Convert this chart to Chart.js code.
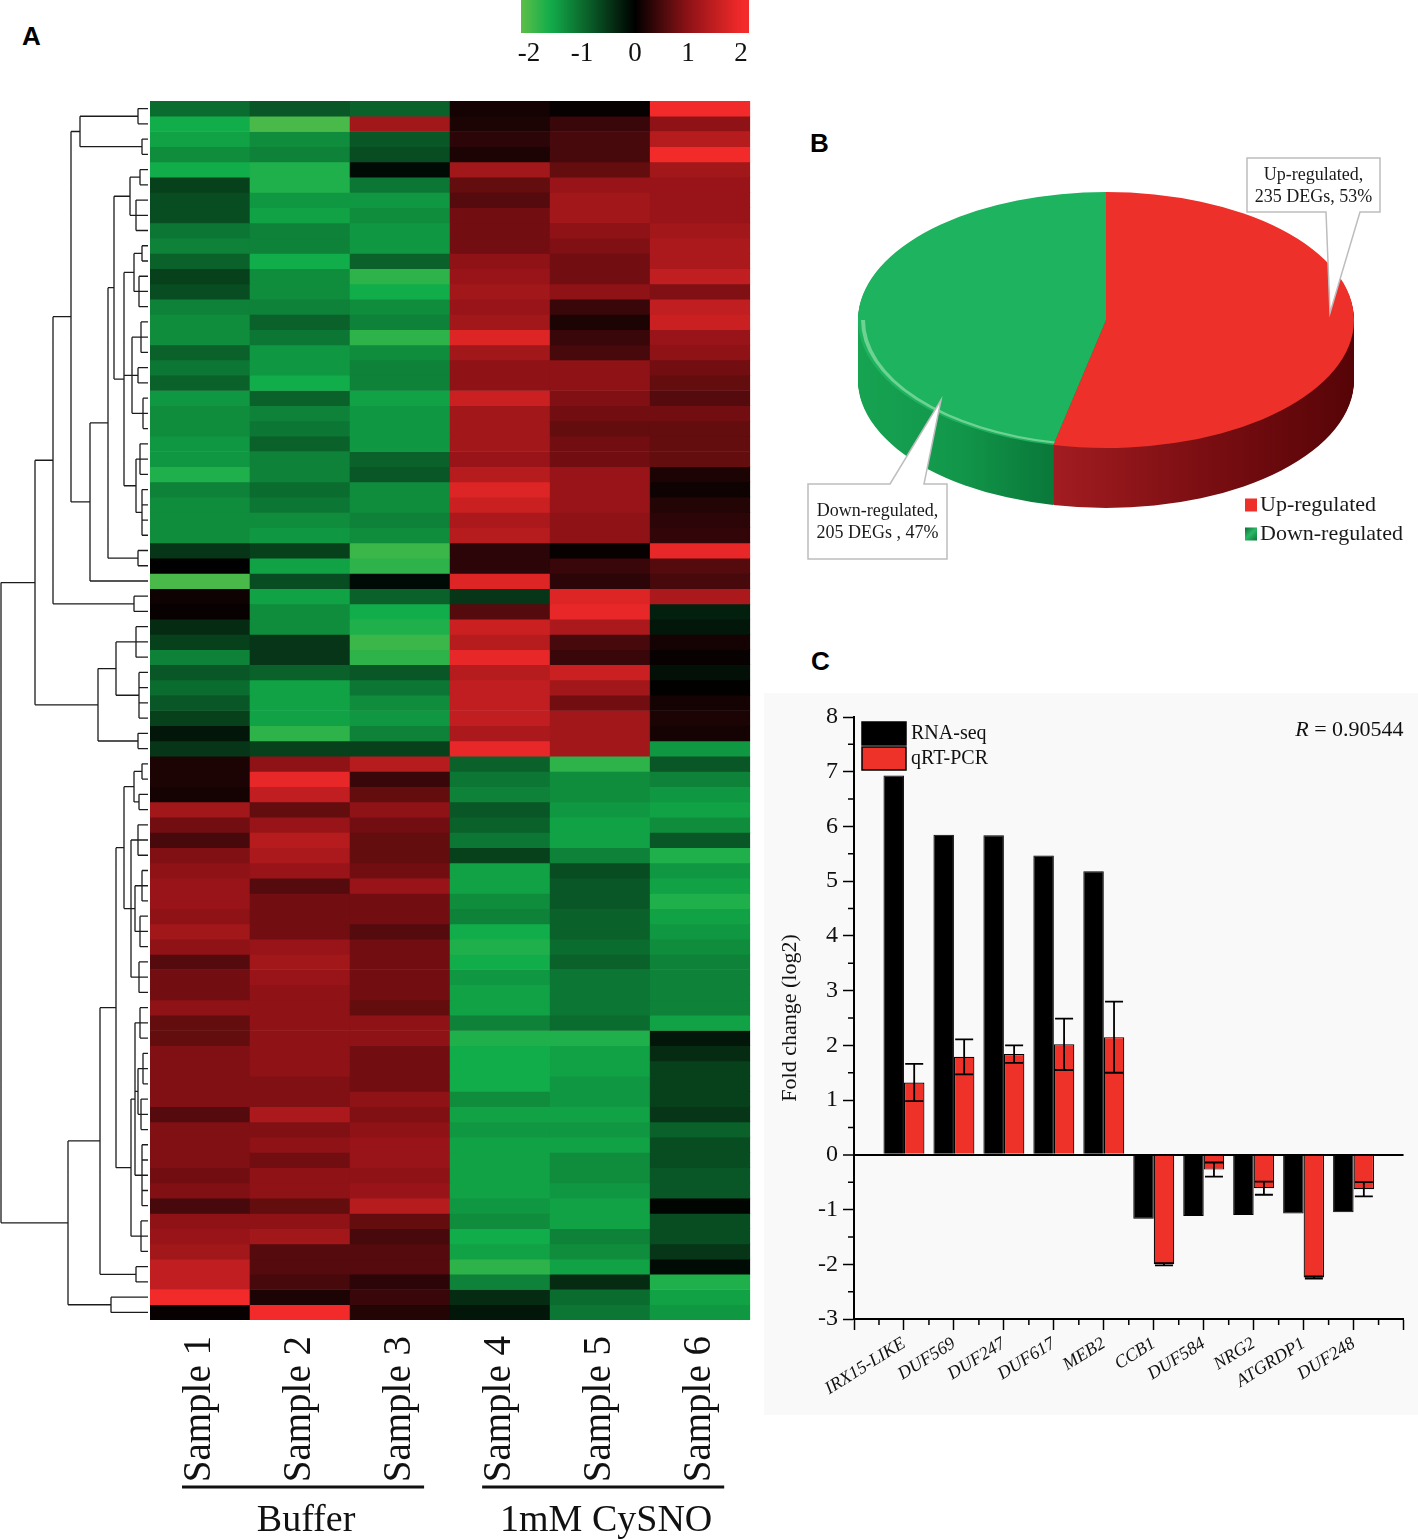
<!DOCTYPE html>
<html><head><meta charset="utf-8">
<script src="https://cdn.jsdelivr.net/npm/chart.js@4.4.1/dist/chart.umd.min.js"></script>
<style>
html,body{margin:0;padding:0;background:#fff;}
#wrap{position:relative;width:1418px;height:1540px;overflow:hidden;background:#fff;}
canvas{position:absolute;}
.lbl{position:absolute;font:bold 26px "Liberation Sans",Arial,sans-serif;line-height:26px;color:#000;}
</style></head><body><div id="wrap">
<div class="lbl" style="left:22px;top:23px">A</div>
<div class="lbl" style="left:810px;top:130px">B</div>
<div class="lbl" style="left:811px;top:648px">C</div>
<canvas id="cbar" width="250" height="75" style="left:515px;top:0px"></canvas>
<canvas id="dendro" width="150" height="1219" style="left:0px;top:101px"></canvas>
<canvas id="heat" width="605" height="1439" style="left:150px;top:101px"></canvas>
<canvas id="pie" width="620" height="560" style="left:796px;top:40px"></canvas>
<canvas id="barC" width="654" height="722" style="left:764px;top:693px"></canvas>
</div>
<script>
// ---------------- DATA ----------------
const samples = ['Sample 1','Sample 2','Sample 3','Sample 4','Sample 5','Sample 6'];
const groups = ['Buffer','1mM CySNO'];
const groupMembers = [[0,2],[3,5]];
const colorTicks = [-2,-1,0,1,2];
const colorRange = [-2.15, 2.15];

const sample1 = [-1.0,-1.6,-1.5,-1.3,-1.6,-0.6,-0.7,-0.7,-1.1,-1.2,-0.9,-0.6,-0.7,-1.2,-1.3,-1.3,-0.9,-1.1,-0.9,-1.4,
  -1.3,-1.3,-1.4,-1.4,-1.7,-1.2,-1.3,-1.3,-1.3,-0.5,0.0,-2.0,0.1,0.05,-0.4,-0.6,-1.2,-0.8,-1.0,-0.8,
  -0.6,-0.2,-0.5,0.2,0.2,0.15,1.2,0.8,0.5,0.9,1.0,1.1,1.1,1.0,1.2,1.0,0.6,0.8,0.8,1.0,
  0.7,0.7,0.9,0.9,0.9,0.9,0.6,0.9,0.9,0.9,0.8,0.9,0.5,1.0,1.1,1.2,1.5,1.5,2.0,0.05];
const sample2 = [-0.8,-2.0,-1.3,-1.2,-1.7,-1.7,-1.4,-1.5,-1.2,-1.2,-1.6,-1.3,-1.3,-1.2,-0.9,-1.1,-1.4,-1.4,-1.6,-0.9,
  -1.2,-1.1,-0.9,-1.2,-1.2,-1.0,-1.1,-1.3,-1.4,-0.6,-1.5,-0.7,-1.5,-1.3,-1.3,-0.5,-0.5,-0.9,-1.5,-1.5,
  -1.5,-1.8,-0.6,1.0,1.9,1.5,0.7,1.1,1.4,1.3,1.1,0.6,0.8,0.8,0.8,1.1,1.2,1.1,1.0,1.0,
  1.0,1.0,1.0,1.0,0.9,0.9,1.3,0.9,1.0,0.8,1.0,1.0,0.7,1.0,1.2,0.6,0.6,0.5,0.2,2.1];
const sample3 = [-0.9,1.2,-0.8,-0.7,-0.1,-1.1,-1.4,-1.3,-1.4,-1.4,-0.9,-1.8,-1.6,-1.3,-1.2,-1.8,-1.3,-1.2,-1.2,-1.5,
  -1.4,-1.4,-1.4,-0.9,-0.8,-1.3,-1.3,-1.2,-1.3,-1.9,-1.8,-0.1,-0.9,-1.6,-1.7,-1.9,-1.8,-0.8,-1.1,-1.3,
  -1.4,-1.2,-0.6,1.4,0.4,0.7,1.0,0.8,0.7,0.7,0.8,1.1,0.8,0.8,0.6,0.8,0.8,0.8,0.8,0.7,
  1.0,1.0,0.8,0.8,0.8,1.0,0.9,1.0,1.1,1.1,1.0,1.1,1.4,0.7,0.5,0.6,0.6,0.3,0.4,0.25];
const sample4 = [0.15,0.2,0.3,0.2,1.2,0.7,0.6,0.8,0.8,0.8,1.0,1.1,1.2,1.1,1.2,1.8,1.2,1.0,1.0,1.6,
  1.2,1.2,1.2,1.1,1.4,1.8,1.6,1.3,1.4,0.3,0.3,1.8,-0.5,0.6,1.6,1.4,1.9,1.4,1.5,1.5,
  1.5,1.3,1.9,-0.9,-1.1,-1.2,-0.8,-0.9,-1.1,-0.6,-1.5,-1.5,-1.3,-1.2,-1.6,-1.7,-1.6,-1.4,-1.5,-1.5,
  -1.2,-1.7,-1.6,-1.6,-1.6,-1.3,-1.5,-1.4,-1.5,-1.5,-1.5,-1.5,-1.4,-1.3,-1.6,-1.5,-1.8,-1.2,-0.4,-0.2];
const sample5 = [0.05,0.4,0.5,0.5,0.7,1.1,1.2,1.2,1.0,0.9,0.8,0.8,1.0,0.4,0.2,0.4,0.5,1.0,1.0,0.9,
  0.8,0.7,0.8,0.8,1.1,1.1,1.1,1.0,1.0,0.05,0.4,0.3,1.8,1.9,1.3,0.5,0.4,1.6,1.2,0.8,
  1.2,1.2,1.2,-1.8,-1.3,-1.3,-1.4,-1.5,-1.5,-1.2,-0.7,-0.8,-0.8,-0.9,-0.9,-1.0,-0.9,-1.1,-1.1,-1.1,
  -1.0,-1.7,-1.5,-1.5,-1.4,-1.4,-1.5,-1.4,-1.5,-1.3,-1.3,-1.4,-1.5,-1.5,-1.2,-1.3,-1.5,-0.4,-1.0,-1.1];
const sample6 = [2.1,1.0,1.4,2.0,1.2,1.1,1.1,1.1,1.2,1.3,1.3,1.5,0.9,1.5,1.6,1.1,1.0,0.8,0.7,0.6,
  0.8,0.7,0.7,0.7,0.2,0.1,0.25,0.3,0.35,1.9,0.6,0.5,1.3,-0.3,-0.2,0.15,0.05,-0.15,0.02,0.15,
  0.2,0.15,-1.4,-0.8,-1.2,-1.4,-1.5,-1.3,-0.8,-1.7,-1.4,-1.5,-1.7,-1.5,-1.4,-1.3,-1.2,-1.2,-1.2,-1.2,
  -1.5,-0.2,-0.4,-0.6,-0.6,-0.6,-0.5,-0.9,-0.7,-0.7,-0.8,-0.8,-0.05,-0.7,-0.7,-0.5,-0.1,-1.7,-1.5,-1.4];

// dendrogram: [mergeDistance, child, child, ...]; leaves are row indices
const dendrogram = [147,
  [113,
    [95,
      [77,
        [68, [10, 0, 1], [6, 2, 3]],
        [58,
          [40,
            [34,
              [18, [8, 4, 5], [12, 6, 7, 8]],
              [24, [14, [6, 9, 10], [9, 11, 12, 13]], [16, [7, 14, 15, 16], [10, 17, 18], [5, 19, 20, 21]], [12, [8, 22, 23, 24], [6, 25, 26, 27, 28]]]
            ],
            [10, 29, 30]
          ],
          31
        ]
      ],
      [14, 32, 33]
    ],
    [50, [32, [12, 34, 35, 36], [9, 37, 38, 39, 40]], [10, 41, 42]]
  ],
  [80,
    [48,
      [32,
        [24, [14, [6, 43, 44], [9, 45, 46]], [17, [10, 47, 48, 49], [13, [6, 50, 51, 52], [8, 53, 54, 55]], [9, 56, 57, 58]]],
        [17, [13, [8, 59, 60, 61], [10, [5, 62, 63, 64], [7, 65, 66, 67]], [6, 68, 69, 70, 71, 72]], [7, 73, 74, 75]]
      ],
      [12, 76, 77]
    ],
    [37, 78, 79]
  ]
];

const pieLabels = ['Up-regulated','Down-regulated'];
const pieCounts = [235, 205];
const pieColors = ['#ed3029','#1eb35f'];

const genes = ['IRX15-LIKE','DUF569','DUF247','DUF617','MEB2','CCB1','DUF584','NRG2','ATGRDP1','DUF248'];
const rnaSeq = [6.93,5.85,5.84,5.47,5.18,-1.17,-1.12,-1.10,-1.07,-1.05];
const qrtPcr = [1.32,1.79,1.84,2.02,2.15,-2.00,-0.27,-0.61,-2.24,-0.63];
const qrtErr = [0.34,0.32,0.16,0.47,0.65,0.02,0.13,0.12,0.02,0.13];
const yRangeC = [-3, 8];
const correlationR = 0.90544;

// ---------------- HELPERS ----------------
const SERIF = '"Liberation Serif","Times New Roman",serif';
function heatColor(v){
  let r,g,b;
  if (v >= 0){
    if (v <= 1){ r=142*v; g=18*v; b=22*v; }
    else { const t=Math.min(1,v-1); r=142+100*t; g=18+24*t; b=22+20*t; }
  } else {
    const a=-v;
    if (a <= 1.6){ const t=a/1.6; r=18*t; g=173*t; b=75*t; }
    else { const t=Math.min(1,(a-1.6)/0.6); r=18+82*t; g=173+19*t; b=75-3*t; }
  }
  return 'rgb('+Math.round(r)+','+Math.round(g)+','+Math.round(b)+')';
}
const common = {responsive:false, animation:false, events:[], plugins:{legend:{display:false}, tooltip:{enabled:false}}};

// ---------------- COLOR BAR ----------------
new Chart(document.getElementById('cbar'), {
  type:'bar',
  data:{labels:[''], datasets:[{data:[colorRange], borderWidth:0, barPercentage:1, categoryPercentage:1,
    backgroundColor:(c)=>{ const ch=c.chart, a=ch.chartArea; if(!a) return '#000';
      const g=ch.ctx.createLinearGradient(a.left,0,a.right,0);
      for(let i=0;i<=40;i++){ const v=colorRange[0]+(colorRange[1]-colorRange[0])*i/40; g.addColorStop(i/40, heatColor(v)); }
      return g; }}]},
  options:Object.assign({}, common, {indexAxis:'y', layout:{padding:{left:6,right:16,top:0,bottom:0}},
    scales:{ y:{display:false},
      x:{type:'linear', min:colorRange[0], max:colorRange[1], grid:{display:false}, border:{display:false},
        afterBuildTicks:(s)=>{ s.ticks=colorTicks.map(v=>({value:v})); },
        afterFit:(s)=>{ s.height=42; },
        ticks:{padding:-3, color:'#111', font:{family:SERIF, size:27}, callback:(v)=>String(v)}}}})
});

// ---------------- DENDROGRAM ----------------
const dendroPts = [];
function walk(node){
  if (typeof node === 'number') return {y:node+0.5, d:0};
  const h=node[0]; const kids=node.slice(1).map(walk);
  kids.forEach(k=>{ dendroPts.push({x:k.d,y:k.y},{x:h,y:k.y},{x:h,y:null}); });
  dendroPts.push({x:h,y:kids[0].y},{x:h,y:kids[kids.length-1].y},{x:h,y:null});
  return {y:(kids[0].y+kids[kids.length-1].y)/2, d:h};
}
walk(dendrogram);
new Chart(document.getElementById('dendro'), {
  type:'scatter',
  data:{datasets:[{data:dendroPts, showLine:true, spanGaps:false, pointRadius:0, borderColor:'#1c1c1c', borderWidth:1.3}]},
  options:Object.assign({}, common, {layout:{padding:{left:0,right:2,top:0,bottom:0}},
    scales:{x:{type:'linear', min:0, max:148, reverse:true, display:false},
            y:{type:'linear', min:0, max:sample1.length, reverse:true, display:false}}})
});

// ---------------- HEATMAP ----------------
const sampleValues = [sample1,sample2,sample3,sample4,sample5,sample6];
const heatDatasets = sample1.map((_,i)=>({
  data: samples.map(()=>1),
  backgroundColor: sampleValues.map(arr=>heatColor(arr[i])),
  borderWidth:0, barPercentage:1, categoryPercentage:1, stack:'h'
}));
const groupPlugin = {
  id:'groups',
  afterDraw(chart){
    const {ctx, chartArea} = chart; const xs = chart.scales.x;
    ctx.save();
    groups.forEach((g,gi)=>{
      const [a,b] = groupMembers[gi];
      const x1 = xs.getPixelForValue(a)-18, x2 = xs.getPixelForValue(b)+24;
      const ly = chartArea.bottom+167;
      ctx.fillStyle='#111'; ctx.fillRect(x1, ly-1.5, x2-x1, 3);
      ctx.font='38px '+SERIF; ctx.textAlign='center'; ctx.textBaseline='alphabetic';
      ctx.fillText(g, (xs.getPixelForValue(a)+xs.getPixelForValue(b))/2+6, chartArea.bottom+211);
    });
    ctx.restore();
  }
};
new Chart(document.getElementById('heat'), {
  type:'bar',
  data:{labels:samples, datasets:heatDatasets},
  options:Object.assign({}, common, {layout:{padding:0},
    scales:{
      x:{stacked:true, grid:{display:false}, border:{display:false},
         ticks:{minRotation:90, maxRotation:90, autoSkip:false, padding:8, color:'#111', font:{family:SERIF, size:39}},
         afterFit:(s)=>{ s.height=220; }},
      y:{stacked:true, display:false, min:0, max:sample1.length, reverse:true}
    }}),
  plugins:[groupPlugin]
});

// ---------------- 3D PIE ----------------
const PIE_TILT = 128/248, PIE_DEPTH = 60;
const sideStops = [
  [[0,'#b52226'],[0.38,'#a41d21'],[0.7,'#7a0e12'],[1,'#560407']],
  [[0,'#16a352'],[0.2,'#12974a'],[0.38,'#0a7a3b'],[1,'#086a33']]
];
const callouts = [
  {box:[451,118,584,172], base:[530,564], tip:[534,273], side:'bottom', sep:', ', lines:[135,157]},
  {box:[12,444,151,519], base:[94,128], tip:[145,360], side:'top', sep:' , ', lines:[471,493]}
];
const pie3d = {
  id:'pie3d',
  beforeDatasetsDraw(chart){
    const {ctx} = chart; const meta = chart.getDatasetMeta(0); const a0 = meta.data[0];
    const cx=a0.x, cy=a0.y, r=a0.outerRadius;
    for(let d=PIE_DEPTH; d>=1; d--){
      meta.data.forEach((arc,i)=>{
        ctx.save(); ctx.translate(cx, cy+d); ctx.scale(1, PIE_TILT);
        const g=ctx.createLinearGradient(-r,0,r,0); sideStops[i].forEach(([o,c])=>g.addColorStop(o,c));
        ctx.fillStyle=g; ctx.beginPath(); ctx.moveTo(0,0);
        ctx.arc(0,0,r,arc.startAngle,arc.endAngle); ctx.closePath(); ctx.fill(); ctx.restore();
      });
    }
    ctx.save(); ctx.translate(cx,cy); ctx.scale(1,PIE_TILT); ctx.translate(-cx,-cy);
  },
  afterDatasetsDraw(chart){
    const {ctx} = chart; const g = chart.getDatasetMeta(0).data[1];
    ctx.beginPath(); ctx.arc(g.x, g.y, g.outerRadius-5, g.startAngle, Math.PI);
    ctx.strokeStyle='rgba(125,215,155,0.85)'; ctx.lineWidth=4; ctx.stroke();
    ctx.restore();
  },
  afterDraw(chart){
    const {ctx} = chart; const total = pieCounts.reduce((a,b)=>a+b,0);
    ctx.save();
    callouts.forEach((c,i)=>{
      const [l,t,r,b]=c.box;
      ctx.beginPath();
      if (c.side==='bottom'){
        ctx.moveTo(l,t); ctx.lineTo(r,t); ctx.lineTo(r,b); ctx.lineTo(c.base[1],b); ctx.lineTo(c.tip[0],c.tip[1]); ctx.lineTo(c.base[0],b); ctx.lineTo(l,b);
      } else {
        ctx.moveTo(l,t); ctx.lineTo(c.base[0],t); ctx.lineTo(c.tip[0],c.tip[1]); ctx.lineTo(c.base[1],t); ctx.lineTo(r,t); ctx.lineTo(r,b); ctx.lineTo(l,b);
      }
      ctx.closePath(); ctx.fillStyle='#fff'; ctx.fill(); ctx.strokeStyle='#bdbdbd'; ctx.lineWidth=1.5; ctx.stroke();
      ctx.fillStyle='#1a1a1a'; ctx.font='18px '+SERIF; ctx.textAlign='center'; ctx.textBaseline='middle';
      const pct = Math.round(pieCounts[i]/total*100);
      ctx.fillText(pieLabels[i]+',', (l+r)/2, c.lines[0]);
      ctx.fillText(pieCounts[i]+' DEGs'+c.sep+pct+'%', (l+r)/2, c.lines[1]);
    });
    // legend
    ctx.font='22px '+SERIF; ctx.textAlign='left'; ctx.textBaseline='middle';
    pieLabels.forEach((lab,i)=>{
      const y = 465 + i*29;
      if (i===0){ ctx.fillStyle=pieColors[0]; }
      else { const g=ctx.createLinearGradient(449,y-7,461,y+6); g.addColorStop(0,'#0a6a32'); g.addColorStop(0.5,'#2bb866'); g.addColorStop(1,'#0b7a3b'); ctx.fillStyle=g; }
      ctx.fillRect(449, y-6.5, 12, 13);
      ctx.fillStyle='#1a1a1a'; ctx.fillText(lab, 464, y);
    });
    ctx.restore();
  }
};
new Chart(document.getElementById('pie'), {
  type:'pie',
  data:{labels:pieLabels, datasets:[{data:pieCounts, backgroundColor:pieColors, borderWidth:0}]},
  options:Object.assign({}, common, {layout:{padding:32}}),
  plugins:[pie3d]
});

// ---------------- BAR CHART C ----------------
const bgPlugin = {id:'bg', beforeDraw(chart){ const {ctx,width,height}=chart; ctx.save(); ctx.fillStyle='#faf9fa'; ctx.fillRect(0,0,width,height); ctx.restore(); }};
const minorTicks = {id:'minor', afterDraw(chart){
  const {ctx, chartArea} = chart; const {x, y} = chart.scales;
  ctx.save(); ctx.strokeStyle='#000'; ctx.lineWidth=1.5; ctx.beginPath();
  for(let v=y.min+0.5; v<y.max; v+=1){ const p=y.getPixelForValue(v); ctx.moveTo(chartArea.left-6,p); ctx.lineTo(chartArea.left,p); }
  for(let v=x.min+0.5; v<x.max; v+=1){ const p=x.getPixelForValue(v); ctx.moveTo(p,chartArea.bottom); ctx.lineTo(p,chartArea.bottom+6); }
  ctx.stroke(); ctx.restore();
}};
const errorBars = {id:'err', afterDatasetsDraw(chart){
  const {ctx} = chart; const y = chart.scales.y; const meta = chart.getDatasetMeta(1);
  ctx.save(); ctx.strokeStyle='#000'; ctx.lineWidth=1.8; ctx.beginPath();
  meta.data.forEach((bar,i)=>{
    const t=y.getPixelForValue(qrtPcr[i]+qrtErr[i]), b=y.getPixelForValue(qrtPcr[i]-qrtErr[i]);
    ctx.moveTo(bar.x,t); ctx.lineTo(bar.x,b);
    ctx.moveTo(bar.x-9,t); ctx.lineTo(bar.x+9,t);
    ctx.moveTo(bar.x-9,b); ctx.lineTo(bar.x+9,b);
  });
  ctx.stroke(); ctx.restore();
}};
const legendC = {id:'legC', afterDraw(chart){
  const {ctx, chartArea} = chart;
  ctx.save(); ctx.font='20px '+SERIF; ctx.textBaseline='middle'; ctx.textAlign='left';
  chart.data.datasets.forEach((ds,i)=>{
    const x0=chartArea.left+8, y0=chartArea.top+5+i*25;
    ctx.fillStyle=ds.backgroundColor; ctx.fillRect(x0,y0,44,23);
    ctx.strokeStyle='#000'; ctx.lineWidth=1.5; ctx.strokeRect(x0,y0,44,23);
    ctx.fillStyle='#111'; ctx.fillText(ds.label, x0+49, y0+12);
  });
  const rest=' = '+correlationR;
  ctx.font='22px '+SERIF; ctx.textAlign='right'; ctx.textBaseline='alphabetic';
  const rx=chartArea.right, ry=chartArea.top+19;
  ctx.fillText(rest, rx, ry);
  const w=ctx.measureText(rest).width;
  ctx.font='italic 22px '+SERIF; ctx.fillText('R', rx-w, ry);
  ctx.restore();
}};
new Chart(document.getElementById('barC'), {
  type:'bar',
  data:{datasets:[
    {label:'RNA-seq', data:genes.map((g,i)=>({x:i+1, y:rnaSeq[i]})), backgroundColor:'#000000', borderColor:'#000', borderWidth:1, categoryPercentage:0.82, barPercentage:1},
    {label:'qRT-PCR', data:genes.map((g,i)=>({x:i+1, y:qrtPcr[i]})), backgroundColor:'#ee3129', borderColor:'#000', borderWidth:1.2, categoryPercentage:0.82, barPercentage:1}
  ]},
  options:Object.assign({}, common, {layout:{padding:{top:24,right:8,left:0,bottom:0}},
    scales:{
      x:{type:'linear', min:0, max:genes.length+1, offset:false,
         grid:{offset:false, drawOnChartArea:false, tickLength:11, color:'#000', tickColor:'#000', tickWidth:1.5},
         border:{color:'#000', width:2},
         ticks:{stepSize:1, autoSkip:false, minRotation:32, maxRotation:32, padding:3, color:'#111',
                font:{family:SERIF, size:18, style:'italic'}, callback:(v)=>genes[v-1]||''},
         afterFit:(s)=>{ s.height=96; }},
      y:{min:yRangeC[0], max:yRangeC[1],
         grid:{color:(c)=>(c.tick && c.tick.value===0)?'#000':'rgba(0,0,0,0)', lineWidth:(c)=>(c.tick && c.tick.value===0)?2:1, tickColor:'#000', tickLength:11, tickWidth:1.5},
         border:{color:'#000', width:2},
         ticks:{stepSize:1, padding:5, color:'#111', font:{family:SERIF, size:24}},
         title:{display:true, text:'Fold change (log2)', color:'#111', font:{family:SERIF, size:22}, padding:{top:13,bottom:0}},
         afterFit:(s)=>{ s.width=90; }}
    }}),
  plugins:[bgPlugin, errorBars, minorTicks, legendC]
});
</script>
</body></html>
